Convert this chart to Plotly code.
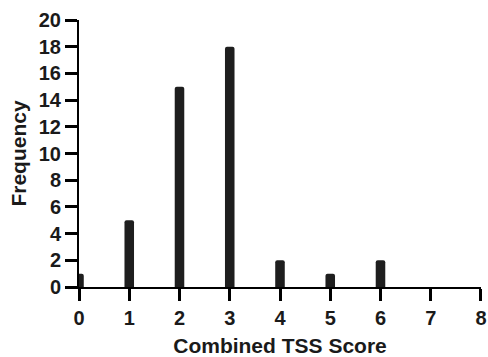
import plotly.graph_objects as go

scores = [0, 1, 2, 3, 4, 5, 6, 7, 8]
frequency = [1, 5, 15, 18, 2, 1, 2, 0, 0]
x_ticks = [0, 1, 2, 3, 4, 5, 6, 7, 8]
y_ticks = [0, 2, 4, 6, 8, 10, 12, 14, 16, 18, 20]

FONT = "Liberation Sans, Arial, sans-serif"

fig = go.Figure()
fig.add_trace(go.Bar(
    x=scores, y=frequency, width=0.19,
    marker=dict(color="#1e1e1e", line=dict(width=0), cornerradius=2),
))

fig.update_layout(
    width=488, height=357,
    margin=dict(l=79, r=7, t=20, b=70),
    paper_bgcolor="white", plot_bgcolor="white",
    showlegend=False,
    template="none",
)
fig.update_xaxes(
    showgrid=False, zeroline=False, showline=True, linecolor="black", linewidth=2,
    ticks="outside", ticklen=12, tickwidth=3, tickcolor="black",
    tickfont=dict(family=FONT, size=20, color="#1a1a1a", weight="bold"),
    automargin=False,
    range=[0, 8.0001], tickvals=x_ticks, ticktext=[str(v) for v in x_ticks],
    title=dict(text="Combined TSS Score", font=dict(family=FONT, size=21, color="#1a1a1a", weight="bold")),
)
fig.update_yaxes(
    showgrid=False, zeroline=False, showline=True, linecolor="black", linewidth=2,
    ticks="outside", ticklen=12, tickwidth=3, tickcolor="black",
    tickfont=dict(family=FONT, size=20, color="#1a1a1a", weight="bold"),
    automargin=False,
    range=[0, 20], tickvals=y_ticks, ticktext=[str(v) for v in y_ticks],
    title=dict(text="Frequency", font=dict(family=FONT, size=21, color="#1a1a1a", weight="bold")),
)

fig.write_html("out.html")
